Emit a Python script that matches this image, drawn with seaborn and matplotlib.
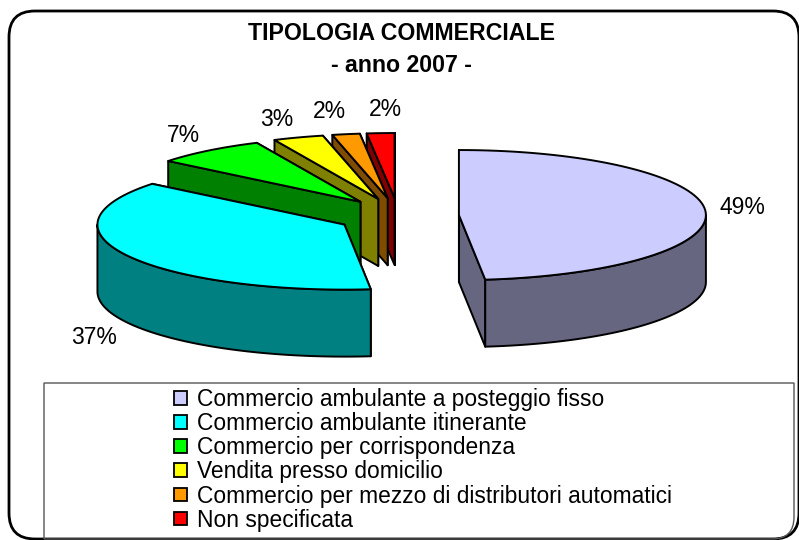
import numpy as np
import matplotlib
matplotlib.use('Agg')
import matplotlib.pyplot as plt
from matplotlib.patches import FancyBboxPatch, Patch, PathPatch
from matplotlib.path import Path
import seaborn as sns

categories = ['Commercio ambulante a posteggio fisso', 'Commercio ambulante itinerante',
              'Commercio per corrispondenza', 'Vendita presso domicilio',
              'Commercio per mezzo di distributori automatici', 'Non specificata']
values = [48.3, 37.5, 7.3, 3.3, 1.8, 1.8]
pct_labels = ['49%', '37%', '7%', '3%', '2%', '2%']

title_lines = ['TIPOLOGIA COMMERCIALE', '- anno 2007 -']

top_colors = ['#CCCCFF', '#00FFFF', '#00FF00', '#FFFF00', '#FF9900', '#FF0000']
wall_colors = ['#666680', '#008080', '#008000', '#808000', '#804C00', '#800000']

sns.set_theme(style='white')
plt.rcParams['font.family'] = ['Liberation Sans', 'DejaVu Sans']

fig = plt.figure(figsize=(7.99, 5.40), dpi=100)
ax = fig.add_axes([0, 0, 1, 1])
ax.set_xlim(0, 799)
ax.set_ylim(540, 0)
ax.axis('off')

# pie geometry, in pixels
cx, cy = 398, 216
rx, ry = 247, 65
depth = 67
ex, ey = 61, 18


def ring(ox, oy, a, b):
    t = np.radians(np.linspace(a, b, 80))
    return ox + rx * np.sin(t), oy - ry * np.cos(t)


edges = np.concatenate([[0], np.cumsum(values)]) / np.sum(values) * 360
pieces = []
for i in range(len(values)):
    a, b = edges[i], edges[i + 1]
    mid = np.radians((a + b) / 2)
    ox = cx + ex * np.sin(mid)
    oy = cy - ey * np.cos(mid)
    pieces.append((i, a, b, ox, oy))

# painter's order, back slices first and the two big ones last
for i, a, b, ox, oy in sorted(pieces, key=lambda p: (p[0] in (0, 1), -p[0])):
    kw = dict(edgecolor='black', linewidth=1.4, joinstyle='round')
    for ang in (b, a):
        x1, y1 = ring(ox, oy, ang, ang)
        ax.fill([ox, x1[0], x1[0], ox], [oy, y1[0], y1[0] + depth, oy + depth],
                facecolor=wall_colors[i], **kw)
    lo, hi = max(a, 90), min(b, 270)
    if hi > lo:
        xs, ys = ring(ox, oy, lo, hi)
        ax.fill(np.r_[xs, xs[::-1]], np.r_[ys, ys[::-1] + depth], facecolor=wall_colors[i], **kw)
    xs, ys = ring(ox, oy, a, b)
    ax.fill(np.r_[ox, xs], np.r_[oy, ys], facecolor=top_colors[i], **kw)

pct_pos = [(742, 208), (94, 338), (183, 135), (277, 119), (329, 112), (385, 110)]
for lab, (px, py) in zip(pct_labels, pct_pos):
    ax.text(px, py, lab, ha='center', va='center', fontsize=16.5, color='black')

ax.text(401, 33, title_lines[0], ha='center', va='center', fontsize=16.7, fontweight='bold', color='black')
ax.text(401, 65, title_lines[1], ha='center', va='center', fontsize=16.7, fontweight='bold', color='black')

# chart outline, runs off the right and bottom edge
ax.add_patch(FancyBboxPatch((9, 11), 790, 528, boxstyle='round,pad=0,rounding_size=26',
                            fill=False, edgecolor='black', linewidth=2, mutation_aspect=1))

# legend frame, its bottom right corner follows the outline
L, T, R, B = 44, 383, 794, 539
frame = Path([(L, B), (L, T), (R, T), (R, B - 22), (R, B), (R - 22, B), (L, B)],
             [Path.MOVETO, Path.LINETO, Path.LINETO, Path.LINETO, Path.CURVE3, Path.CURVE3, Path.LINETO])
ax.add_patch(PathPatch(frame, fill=False, edgecolor='#555555', linewidth=1))

handles = [Patch(facecolor=c, edgecolor='black', linewidth=1.3) for c in top_colors]
leg = ax.legend(handles, categories, loc='upper left', bbox_to_anchor=(174 / 799, 1 - 388 / 540),
                bbox_transform=ax.transAxes, frameon=False, fontsize=16.4, handlelength=0.55,
                handleheight=0.55, handletextpad=0.45, labelspacing=0.05, borderpad=0, borderaxespad=0)
for t in leg.get_texts():
    t.set_color('black')

fig.savefig('out.png', dpi=100)
